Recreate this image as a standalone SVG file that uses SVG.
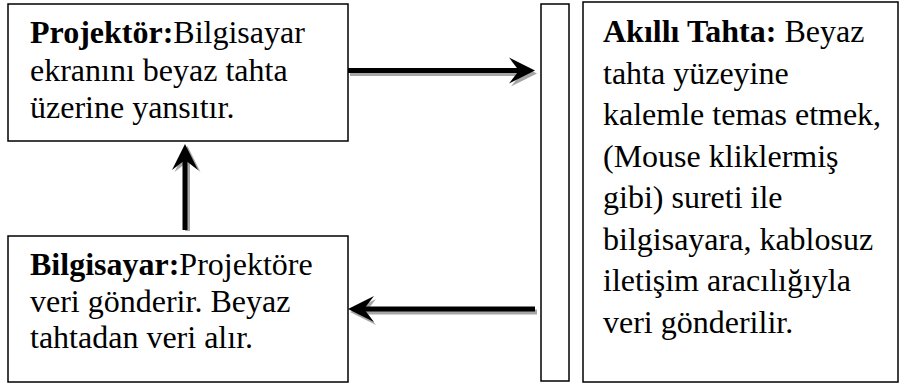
<svg xmlns="http://www.w3.org/2000/svg" width="899" height="385" viewBox="0 0 899 385">
<defs>
<marker id="unused" markerWidth="1" markerHeight="1"/>
</defs>
<rect width="899" height="385" fill="#fff"/>
<g id="connectors">
  <g id="c1">
    <line stroke="#a6a6a6" stroke-width="5" x1="350" y1="73.5" x2="522" y2="73.5"/>
    <path fill="#a6a6a6" transform="translate(537,73.5)" d="M0,0 L-26,-13 L-16,0 L-26,13 Z"/>
    <line stroke="#000" stroke-width="5" x1="348" y1="70.5" x2="520" y2="70.5"/>
    <path fill="#000" transform="translate(535,70.5)" d="M0,0 L-26,-13 L-16,0 L-26,13 Z"/>
  </g>
  <g id="c2">
    <line stroke="#a6a6a6" stroke-width="5" x1="537" y1="312" x2="366" y2="312"/>
    <path fill="#a6a6a6" transform="translate(350,312) rotate(180)" d="M0,0 L-26,-13 L-16,0 L-26,13 Z"/>
    <line stroke="#000" stroke-width="5" x1="535" y1="309" x2="364" y2="309"/>
    <path fill="#000" transform="translate(348,309) rotate(180)" d="M0,0 L-26,-13 L-16,0 L-26,13 Z"/>
  </g>
  <g id="c3">
    <line stroke="#a6a6a6" stroke-width="5" x1="187.5" y1="231" x2="187.5" y2="161"/>
    <path fill="#a6a6a6" transform="translate(187.5,146) rotate(-90)" d="M0,0 L-26,-13 L-16,0 L-26,13 Z"/>
    <line stroke="#000" stroke-width="5" x1="185" y1="230" x2="185" y2="159"/>
    <path fill="#000" transform="translate(185,144) rotate(-90)" d="M0,0 L-26,-13 L-16,0 L-26,13 Z"/>
  </g>
</g>
<g id="projektor">
  <rect fill="#fff" stroke="#000" stroke-width="1.5" x="8" y="4" width="340" height="137"/>
  <text font-family="Liberation Serif" font-size="32" x="30" y="43"><tspan font-weight="bold">Projektör:</tspan>Bilgisayar</text>
  <text font-family="Liberation Serif" font-size="32" x="30" y="81">ekranını beyaz tahta</text>
  <text font-family="Liberation Serif" font-size="32" x="30" y="118">üzerine yansıtır.</text>
</g>
<g id="bilgisayar">
  <rect fill="#fff" stroke="#000" stroke-width="1.5" x="8" y="236" width="340" height="146"/>
  <text font-family="Liberation Serif" font-size="32" x="30" y="275"><tspan font-weight="bold">Bilgisayar:</tspan>Projektöre</text>
  <text font-family="Liberation Serif" font-size="32" x="30" y="312">veri gönderir. Beyaz</text>
  <text font-family="Liberation Serif" font-size="32" x="30" y="348">tahtadan veri alır.</text>
</g>
<g id="tahta-kenar">
  <rect fill="#fff" stroke="#000" stroke-width="1.5" x="541" y="4" width="28" height="377"/>
</g>
<g id="akilli-tahta">
  <rect fill="#fff" stroke="#000" stroke-width="1.5" x="583" y="2" width="315" height="380"/>
  <text font-family="Liberation Serif" font-size="32" x="603" y="42"><tspan font-weight="bold">Akıllı Tahta:</tspan> Beyaz</text>
  <text font-family="Liberation Serif" font-size="32" x="603" y="83.5">tahta yüzeyine</text>
  <text font-family="Liberation Serif" font-size="32" x="603" y="125">kalemle temas etmek,</text>
  <text font-family="Liberation Serif" font-size="32" x="603" y="166.5">(Mouse kliklermiş</text>
  <text font-family="Liberation Serif" font-size="32" x="603" y="208">gibi) sureti ile</text>
  <text font-family="Liberation Serif" font-size="32" x="603" y="249.5">bilgisayara, kablosuz</text>
  <text font-family="Liberation Serif" font-size="32" x="603" y="291">iletişim aracılığıyla</text>
  <text font-family="Liberation Serif" font-size="32" x="603" y="332.5">veri gönderilir.</text>
</g>
</svg>
